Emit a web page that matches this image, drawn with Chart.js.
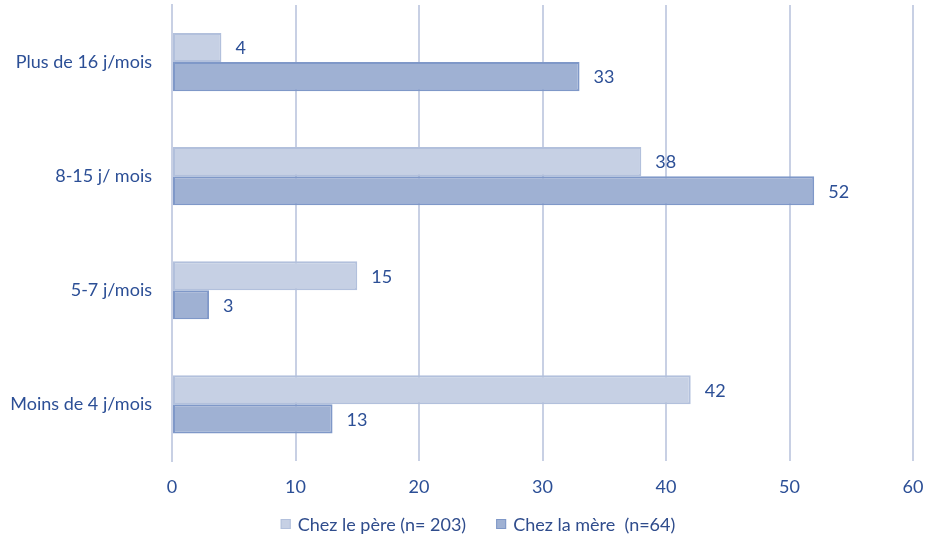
<!DOCTYPE html>
<html lang="fr">
<head>
<meta charset="utf-8">
<title>Fréquence de garde</title>
<script src="https://cdn.jsdelivr.net/npm/chart.js@4/dist/chart.umd.min.js"></script>
<style>
  html, body { margin: 0; padding: 0; background: #fff; }
  #wrap { width: 931px; height: 539px; position: relative; }
</style>
</head>
<body>
<div id="wrap"><canvas id="chart"></canvas></div>
<script>
// Categories, top to bottom
const categories = ['Plus de 16 j/mois', '8-15 j/ mois', '5-7 j/mois', 'Moins de 4 j/mois'];
// Series values
const chezPere = [4, 38, 15, 42];
const chezMere = [33, 52, 3, 13];
const seriesNames = ['Chez le père (n= 203)', 'Chez la mère  (n=64)'];
// X axis ticks
const xTicks = [0, 10, 20, 30, 40, 50, 60];

const TEXT_BLUE = '#2c4f96';
const FONT = 'Lato, "Open Sans", sans-serif';

// Writes each bar's value just past its end
const valueLabels = {
    id: 'valueLabels',
    afterDatasetsDraw(chart) {
        const ctx = chart.ctx;
        ctx.save();
        ctx.fillStyle = TEXT_BLUE;
        ctx.font = '18px ' + FONT;
        ctx.textAlign = 'left';
        ctx.textBaseline = 'middle';
        chart.data.datasets.forEach((ds, i) => {
            chart.getDatasetMeta(i).data.forEach((bar, j) => {
                ctx.fillText(String(ds.data[j]), bar.x + 14, bar.y + 1);
            });
        });
        ctx.restore();
    }
};

// Small legend row under the x axis, centred on the plot
const bottomLegend = {
    id: 'bottomLegend',
    afterDraw(chart) {
        const ctx = chart.ctx;
        const box = 10, textGap = 7, itemGap = 30;
        const y = 524;
        ctx.save();
        ctx.font = '18px ' + FONT;
        ctx.textBaseline = 'middle';
        ctx.textAlign = 'left';
        const items = chart.data.datasets.map(ds => ({
            ds: ds,
            w: box + textGap + ctx.measureText(ds.label).width
        }));
        const total = items.reduce((s, it) => s + it.w, 0) + itemGap * (items.length - 1);
        let x = 478 - total / 2;
        items.forEach(it => {
            ctx.fillStyle = it.ds.backgroundColor;
            ctx.strokeStyle = it.ds.borderColor;
            ctx.lineWidth = 1;
            ctx.fillRect(x, y - box / 2, box, box);
            ctx.strokeRect(x + 0.5, y - box / 2 + 0.5, box - 1, box - 1);
            ctx.fillStyle = '#2f4c8c';
            ctx.fillText(it.ds.label, x + box + textGap, y + 1);
            x += it.w + itemGap;
        });
        ctx.restore();
    }
};

const ctx = document.getElementById('chart').getContext('2d');
new Chart(ctx, {
    type: 'bar',
    data: {
        labels: categories,
        datasets: [{
            label: seriesNames[0],
            data: chezPere,
            backgroundColor: '#c6d0e4',
            borderColor: '#b2c0dc',
            borderWidth: 2,
            borderSkipped: false
        }, {
            label: seriesNames[1],
            data: chezMere,
            backgroundColor: '#9fb1d3',
            borderColor: '#7f98c8',
            borderWidth: 2,
            borderSkipped: false
        }]
    },
    options: {
        indexAxis: 'y',
        responsive: true,
        maintainAspectRatio: false,
        animation: false,
        categoryPercentage: 0.51,
        barPercentage: 1.0,
        layout: { padding: { top: 5, right: 18, left: 0, bottom: 26 } },
        scales: {
            x: {
                min: 0,
                max: 60,
                afterBuildTicks(scale) {
                    scale.ticks = xTicks.map(v => ({ value: v }));
                },
                afterFit(scale) {
                    scale.paddingLeft = 0;
                    scale.paddingRight = 0;
                },
                grid: { color: '#c8d0e4', lineWidth: 2, drawTicks: false },
                border: { display: false },
                ticks: {
                    color: TEXT_BLUE,
                    font: { family: FONT, size: 18 },
                    padding: 15
                }
            },
            y: {
                grid: { display: false },
                border: { display: true, color: '#c8d0e4', width: 2 },
                afterFit(scale) {
                    scale.width = 172;
                    scale.paddingTop = 0;
                    scale.paddingBottom = 0;
                },
                ticks: {
                    color: TEXT_BLUE,
                    font: { family: FONT, size: 18 },
                    padding: 12
                }
            }
        },
        plugins: {
            legend: { display: false },
            tooltip: { enabled: false }
        }
    },
    plugins: [valueLabels, bottomLegend]
});
</script>
</body>
</html>
